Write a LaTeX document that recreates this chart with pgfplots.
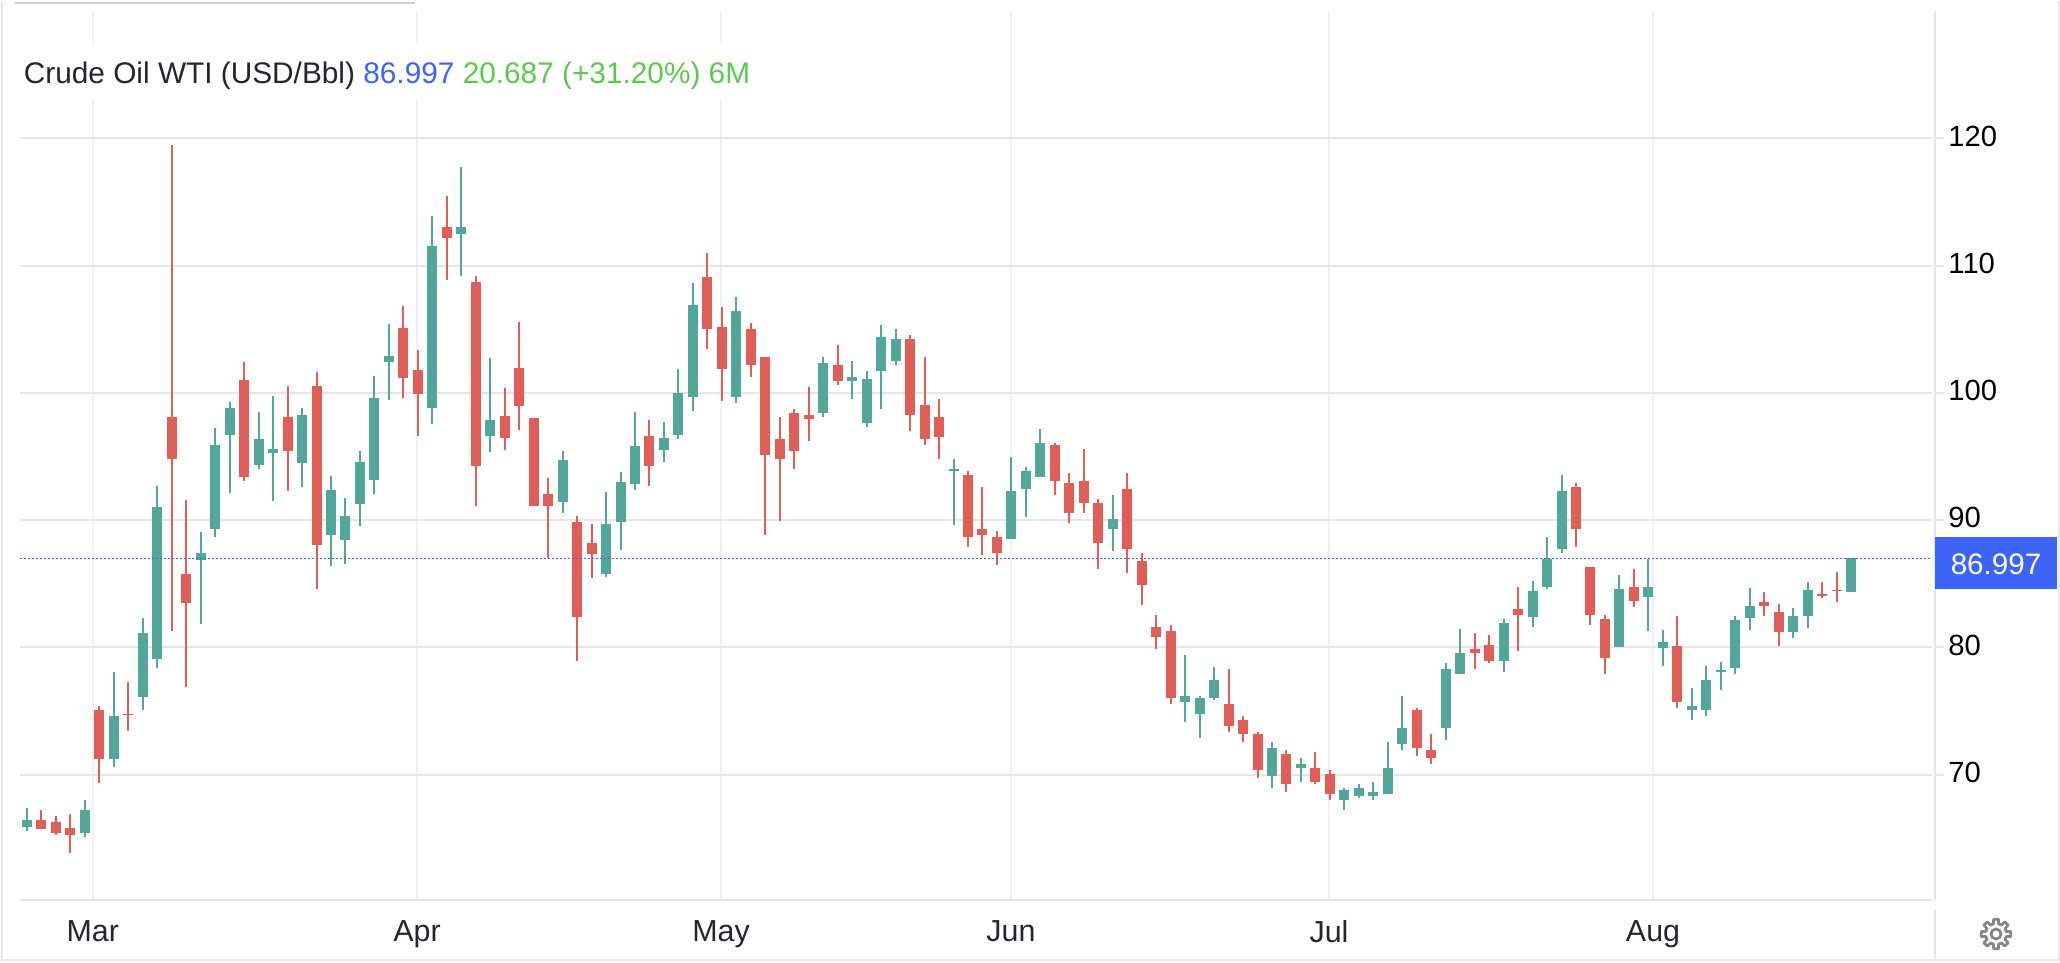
\documentclass[border=0pt]{standalone}
\usepackage{pgfplots}
\usepackage{pgfplotstable}
\usepackage{fontspec}
\setmainfont{Liberation Sans}
\pgfplotsset{compat=1.18}
\definecolor{candleG}{HTML}{53A69A}
\definecolor{candleR}{HTML}{DF5F58}
\definecolor{priceB}{HTML}{3D64F8}
\definecolor{titleG}{HTML}{5CC84F}
\definecolor{hgrid}{HTML}{E6E6E6}
\definecolor{vgrid}{HTML}{EEF2F7}
\definecolor{frameC}{HTML}{E7E7EC}
\definecolor{darkT}{HTML}{23262E}
\pgfplotstableread{
i l b t h
0 65.58 65.90 66.48 67.38
4 65.11 65.43 67.22 68.01
6 70.59 71.21 74.65 78.09
8 75.12 76.10 81.10 82.31
9 78.40 79.07 91.00 92.67
12 81.88 86.89 87.40 89.08
13 88.65 89.31 95.88 97.25
14 92.13 96.70 98.85 99.28
16 94.00 94.32 96.35 98.50
17 91.50 95.29 95.57 99.75
19 92.60 94.47 98.23 98.81
21 86.42 88.84 92.40 93.50
22 86.53 88.44 90.30 91.73
23 89.51 91.25 94.54 95.47
24 92.04 93.16 99.61 101.29
25 99.44 102.42 102.90 105.40
28 97.55 98.82 111.56 113.92
30 109.20 112.52 113.00 117.72
32 95.33 96.60 97.86 102.73
37 90.60 91.39 94.71 95.47
40 85.57 85.74 89.68 92.18
41 87.62 89.82 92.97 93.76
42 92.35 92.83 95.81 98.48
44 94.54 95.50 96.46 97.69
45 96.38 96.69 100.00 101.89
46 98.58 99.69 106.93 108.66
49 99.21 99.69 106.46 107.56
55 98.11 98.43 102.36 102.83
57 99.53 100.94 101.26 102.52
58 97.32 97.64 101.10 101.73
59 98.74 101.73 104.41 105.35
60 102.20 102.52 104.25 105.04
64 89.61 93.86 94.02 94.80
68 88.50 88.50 92.28 94.96
69 90.24 92.44 93.86 94.17
70 93.39 93.39 96.06 97.17
75 87.56 89.29 90.08 91.97
80 74.17 75.75 76.22 79.37
81 72.91 74.80 76.06 76.22
82 75.91 76.06 77.48 78.43
86 68.98 69.92 72.13 72.60
88 69.45 70.55 70.87 71.34
91 67.24 68.03 68.82 68.98
92 68.19 68.35 68.98 69.29
93 68.03 68.35 68.66 69.45
94 68.50 68.50 70.55 72.60
95 71.97 72.44 73.70 76.22
98 72.76 73.70 78.27 78.74
99 77.95 77.95 79.53 81.42
102 78.11 78.90 81.89 82.20
104 81.57 82.36 84.41 85.20
105 84.57 84.72 86.93 88.66
106 87.40 87.72 92.28 93.54
110 80.00 80.00 84.57 85.67
112 81.26 83.94 84.72 86.93
113 78.57 79.99 80.46 81.40
115 74.32 75.11 75.43 76.84
116 74.64 75.11 77.47 78.57
117 76.68 78.10 78.26 78.89
118 77.94 78.41 82.19 82.50
119 81.40 82.35 83.29 84.71
122 80.77 81.25 82.50 83.13
123 81.56 82.50 84.55 85.18
126 84.39 84.39 86.997 87.05
}\greentable
\pgfplotstableread{
i l b t h
1 65.74 65.74 66.48 67.22
2 65.27 65.43 66.29 66.75
3 63.82 65.27 65.82 66.91
5 69.34 71.21 75.08 75.43
7 73.40 74.69 74.81 77.31
10 81.30 94.78 98.07 119.45
11 76.88 83.49 85.79 91.58
15 93.06 93.38 101.04 102.45
18 92.28 95.41 98.07 100.53
20 84.58 88.06 100.57 101.63
26 99.61 101.18 105.12 106.84
27 96.60 99.92 101.80 103.38
29 108.89 112.21 113.00 115.50
31 91.08 94.23 108.72 109.20
33 95.50 96.46 98.17 100.39
34 97.07 98.96 101.97 105.57
35 91.08 91.08 98.03 98.03
36 87.00 91.08 92.04 93.31
38 78.96 82.42 89.82 90.30
39 85.43 87.31 88.24 89.68
43 92.66 94.23 96.60 97.86
47 103.46 105.04 109.13 111.02
48 99.37 101.89 105.20 106.77
50 101.26 102.20 105.04 105.51
51 88.82 95.12 102.83 102.83
52 89.92 94.80 96.38 98.11
53 94.02 95.43 98.43 98.74
54 96.22 97.95 98.27 100.47
56 100.63 100.94 102.20 103.78
61 97.01 98.27 104.25 104.57
62 95.91 96.38 99.06 102.83
63 94.80 96.54 98.11 99.53
65 87.87 88.66 93.54 93.86
66 87.24 88.82 89.29 92.60
67 86.46 87.40 88.66 89.13
71 91.97 93.07 95.91 96.06
72 89.76 90.55 92.91 93.70
73 90.55 91.34 93.07 95.59
74 86.14 88.19 91.34 91.65
76 85.83 87.72 92.44 93.70
77 83.31 84.88 86.77 87.40
78 79.84 80.79 81.57 82.52
79 75.59 76.06 81.26 81.73
83 73.39 73.86 75.59 78.27
84 72.60 73.23 74.33 74.65
85 69.76 70.40 73.23 73.39
87 68.66 69.29 71.65 71.97
89 69.29 69.45 70.55 71.81
90 68.03 68.50 70.08 70.39
96 71.50 72.13 75.12 75.28
97 70.87 71.34 71.97 73.23
100 78.27 79.53 79.84 81.10
101 78.74 78.90 80.16 80.94
103 79.69 82.52 82.99 84.72
107 87.87 89.29 92.60 92.91
108 81.73 82.52 86.30 86.30
109 77.95 79.21 82.20 82.52
111 83.15 83.62 84.72 86.14
114 75.27 75.74 80.14 82.50
120 82.50 83.29 83.60 84.39
121 80.14 81.25 82.82 83.45
124 83.92 84.08 84.23 85.18
125 83.60 84.44 84.55 85.96
}\redtable
\newcommand{\candles}[2]{%
  \addplot[draw=none,mark=none,forget plot,
    error bars/.cd,y dir=both,y explicit,error mark=none,
    error bar style={draw=#2,line width=1pt,solid}]
    table[x=i,y=b,
      y error plus expr=\thisrow{h}-\thisrow{b},
      y error minus expr=\thisrow{b}-\thisrow{l}] {#1};
  \addplot[draw=none,mark=none,forget plot,
    error bars/.cd,y dir=plus,y explicit,error mark=none,
    error bar style={draw=#2,line width=5pt,solid}]
    table[x=i,y=b,
      y error plus expr=\thisrow{t}-\thisrow{b}] {#1};
}
\begin{document}
\begin{tikzpicture}
\begin{scope}[x=0.5pt,y=-0.5pt]
  \path[use as bounding box] (0,0) rectangle (2060,962);
\end{scope}
\begin{axis}[
  at={(10pt,-449.6pt)},anchor=south west,
  scale only axis,width=957.5pt,height=444.35pt,
  xmin=-0.4836,xmax=131.80,ymin=60.14,ymax=129.97,
  axis x line=bottom,axis y line=right,
  axis line style={-,draw=hgrid,line width=1pt},
  grid=major,
  x grid style={draw=vgrid,line width=1pt},
  y grid style={draw=hgrid,line width=1pt},
  xtick={4.54,26.94,47.94,67.97,89.94,112.32},
  xticklabels={Mar,Apr,May,Jun,Jul,Aug},
  ytick={70,80,90,100,110,120},
  yticklabel pos=right,
  tick align=outside,
  major tick length=4.5pt,
  x tick style={draw=none},
  y tick style={draw=hgrid,line width=1pt},
  /pgf/number format/assume math mode=true,
  xticklabel style={font=\fontsize{15.2}{18}\selectfont,text=darkT,inner sep=0pt,yshift=-5.3pt},
  yticklabel style={font=\fontsize{14.6}{18}\selectfont,text=black,inner sep=0pt,anchor=west,xshift=2pt,yshift=1.2pt},
]
\candles{\greentable}{candleG}
\candles{\redtable}{candleR}
\addplot[priceB,line width=0.8pt,dash pattern=on 1.1pt off 0.9pt,forget plot]
  coordinates {(-0.4836,86.997) (131.80,86.997)};
\end{axis}
\begin{scope}[x=0.5pt,y=-0.5pt]
  % frame
  \fill[white] (1932,8) rectangle (1934,904);
  \fill[white] (20,42) rectangle (756,98);
  \draw[frameC,line width=1pt] (2,0) -- (2,959) -- (2059,959) -- (2059,0);
  \draw[hgrid!90!black,line width=1pt] (15,2) -- (415,2);
  \draw[hgrid,line width=1pt] (1935,908) -- (1935,959);
  % title
  \node[anchor=west,inner sep=0pt,font=\fontsize{14.9}{18}\selectfont,text=darkT] at (23.5,75)
    {Crude Oil WTI (USD/Bbl) \textcolor{priceB}{86.997} \textcolor{titleG}{20.687 (+31.20\%) 6M}};
  % price tag
  \fill[priceB] (1935,536) rectangle (2057,588);
  \node[text=white,inner sep=0pt,font=\fontsize{14.8}{18}\selectfont] at (1996,563) {86.997};
  % settings gear
  \begin{scope}[shift={(1996,933)}]
    \draw[gray!95,line width=1.4pt,line join=round]
      (-14:10.5) \foreach \a in {0,45,...,315} { -- (\a-14:10.5) -- (\a-9:15) -- (\a+9:15) -- (\a+14:10.5) } -- cycle;
    \draw[gray!95,line width=1.4pt] (0,0) circle (5);
  \end{scope}
\end{scope}
\end{tikzpicture}
\end{document}
